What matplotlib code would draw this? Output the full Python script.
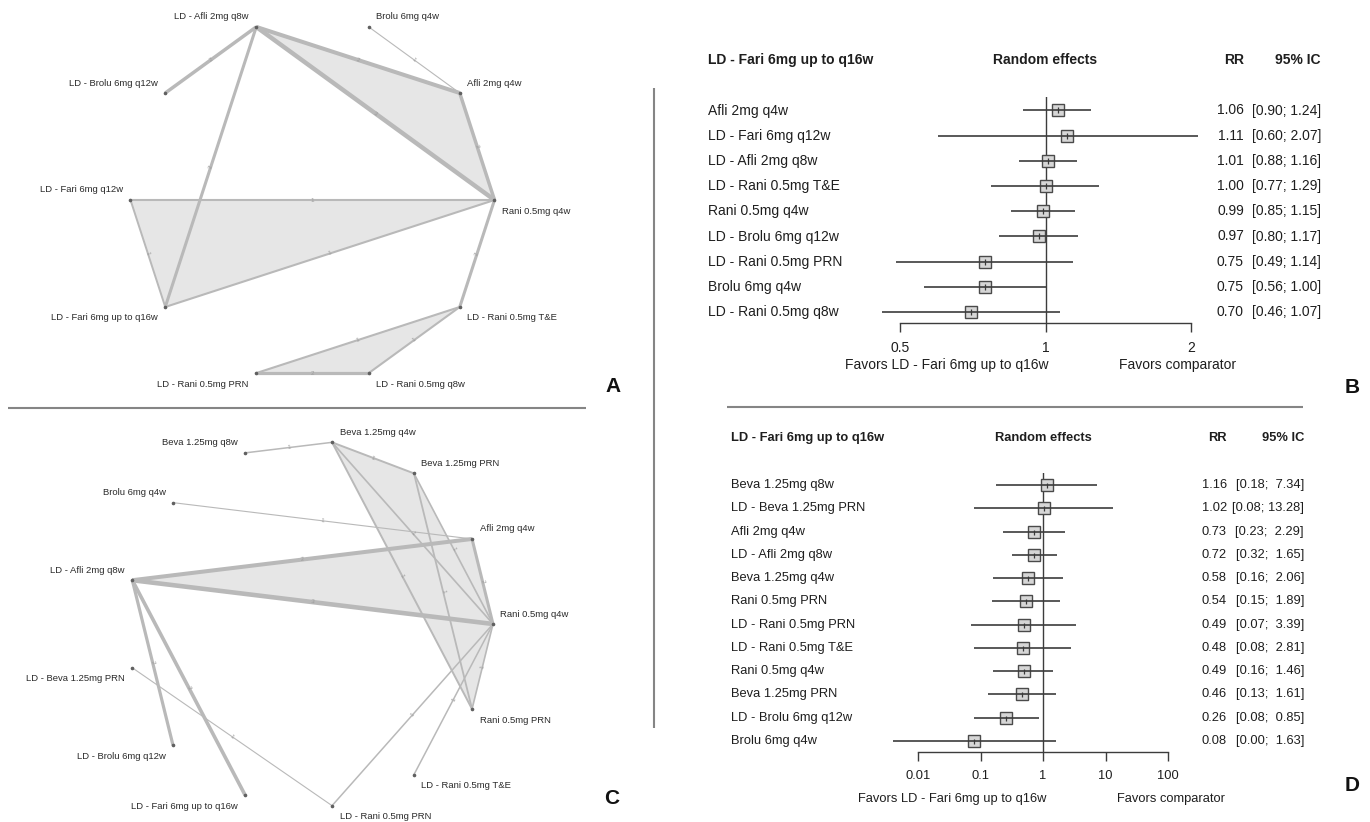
import numpy as np
import matplotlib.pyplot as plt
import matplotlib.transforms as mtransforms

plt.rcParams["font.family"] = ["Liberation Sans", "DejaVu Sans"]

W, H = 1370, 822
EDGE = "#b9b9b9"
FILL = "#e6e6e6"
SEP = "#858585"
INK = "#1e1e1e"
LINE = "#3c3c3c"

# ---------------- network A (10 treatments) ----------------
a_nodes = ["Rani 0.5mg q4w", "Afli 2mg q4w", "Brolu 6mg q4w", "LD - Afli 2mg q8w",
           "LD - Brolu 6mg q12w", "LD - Fari 6mg q12w", "LD - Fari 6mg up to q16w",
           "LD - Rani 0.5mg PRN", "LD - Rani 0.5mg q8w", "LD - Rani 0.5mg T&E"]
a_edges = [("LD - Afli 2mg q8w", "LD - Brolu 6mg q12w"),
           ("LD - Afli 2mg q8w", "Afli 2mg q4w"),
           ("LD - Afli 2mg q8w", "Rani 0.5mg q4w"),
           ("LD - Afli 2mg q8w", "LD - Fari 6mg up to q16w"),
           ("Brolu 6mg q4w", "Afli 2mg q4w"),
           ("Afli 2mg q4w", "Rani 0.5mg q4w"),
           ("Rani 0.5mg q4w", "LD - Fari 6mg q12w"),
           ("Rani 0.5mg q4w", "LD - Fari 6mg up to q16w"),
           ("LD - Fari 6mg q12w", "LD - Fari 6mg up to q16w"),
           ("Rani 0.5mg q4w", "LD - Rani 0.5mg T&E"),
           ("LD - Rani 0.5mg T&E", "LD - Rani 0.5mg PRN"),
           ("LD - Rani 0.5mg T&E", "LD - Rani 0.5mg q8w"),
           ("LD - Rani 0.5mg PRN", "LD - Rani 0.5mg q8w")]
a_studies = [2, 2, 3, 2, 1, 2, 1, 1, 1, 2, 1, 1, 2]
a_multi = [["LD - Afli 2mg q8w", "Afli 2mg q4w", "Rani 0.5mg q4w"],
           ["LD - Fari 6mg q12w", "Rani 0.5mg q4w", "LD - Fari 6mg up to q16w"],
           ["LD - Rani 0.5mg T&E", "LD - Rani 0.5mg q8w", "LD - Rani 0.5mg PRN"]]
a_lw = [2.5, 2.9, 3.2, 2.2, 0.8, 2.5, 1.5, 1.5, 1.4, 2.2, 1.5, 1.5, 2.3]

# ---------------- network C (13 treatments) ----------------
c_nodes = ["Rani 0.5mg q4w", "Afli 2mg q4w", "Beva 1.25mg PRN", "Beva 1.25mg q4w",
           "Beva 1.25mg q8w", "Brolu 6mg q4w", "LD - Afli 2mg q8w", "LD - Beva 1.25mg PRN",
           "LD - Brolu 6mg q12w", "LD - Fari 6mg up to q16w", "LD - Rani 0.5mg PRN",
           "LD - Rani 0.5mg T&E", "Rani 0.5mg PRN"]
c_edges = [("Beva 1.25mg q8w", "Beva 1.25mg q4w"),
           ("Beva 1.25mg q4w", "Beva 1.25mg PRN"),
           ("Beva 1.25mg q4w", "Rani 0.5mg q4w"),
           ("Beva 1.25mg q4w", "Rani 0.5mg PRN"),
           ("Beva 1.25mg PRN", "Rani 0.5mg q4w"),
           ("Beva 1.25mg PRN", "Rani 0.5mg PRN"),
           ("Brolu 6mg q4w", "Afli 2mg q4w"),
           ("LD - Afli 2mg q8w", "Afli 2mg q4w"),
           ("LD - Afli 2mg q8w", "Rani 0.5mg q4w"),
           ("Afli 2mg q4w", "Rani 0.5mg q4w"),
           ("Rani 0.5mg q4w", "Rani 0.5mg PRN"),
           ("Rani 0.5mg q4w", "LD - Rani 0.5mg T&E"),
           ("Rani 0.5mg q4w", "LD - Rani 0.5mg PRN"),
           ("LD - Afli 2mg q8w", "LD - Brolu 6mg q12w"),
           ("LD - Afli 2mg q8w", "LD - Fari 6mg up to q16w"),
           ("LD - Beva 1.25mg PRN", "LD - Rani 0.5mg PRN")]
c_studies = [1, 1, 1, 1, 1, 1, 1, 2, 3, 2, 1, 1, 1, 2, 2, 1]
c_multi = [["LD - Afli 2mg q8w", "Afli 2mg q4w", "Rani 0.5mg q4w"],
           ["Beva 1.25mg q4w", "Beva 1.25mg PRN", "Rani 0.5mg q4w", "Rani 0.5mg PRN"]]
c_lw = [1.1, 1.4, 1.2, 1.4, 1.2, 1.3, 0.8, 2.9, 3.3, 2.2, 1.2, 1.1, 1.1, 2.3, 2.6, 0.8]

# ---------------- forest B ----------------
ref_name = "LD - Fari 6mg up to q16w"
b_labels = ["Afli 2mg q4w", "LD - Fari 6mg q12w", "LD - Afli 2mg q8w", "LD - Rani 0.5mg T&E",
            "Rani 0.5mg q4w", "LD - Brolu 6mg q12w", "LD - Rani 0.5mg PRN",
            "Brolu 6mg q4w", "LD - Rani 0.5mg q8w"]
b_rr = [1.06, 1.11, 1.01, 1.00, 0.99, 0.97, 0.75, 0.75, 0.70]
b_lo = [0.90, 0.60, 0.88, 0.77, 0.85, 0.80, 0.49, 0.56, 0.46]
b_hi = [1.24, 2.07, 1.16, 1.29, 1.15, 1.17, 1.14, 1.00, 1.07]
b_ticks = [0.5, 1, 2]
b_ticklabels = ["0.5", "1", "2"]

# ---------------- forest D ----------------
d_labels = ["Beva 1.25mg q8w", "LD - Beva 1.25mg PRN", "Afli 2mg q4w", "LD - Afli 2mg q8w",
            "Beva 1.25mg q4w", "Rani 0.5mg PRN", "LD - Rani 0.5mg PRN", "LD - Rani 0.5mg T&E",
            "Rani 0.5mg q4w", "Beva 1.25mg PRN", "LD - Brolu 6mg q12w", "Brolu 6mg q4w"]
d_rr = [1.16, 1.02, 0.73, 0.72, 0.58, 0.54, 0.49, 0.48, 0.49, 0.46, 0.26, 0.08]
d_lo = [0.18, 0.08, 0.23, 0.32, 0.16, 0.15, 0.07, 0.08, 0.16, 0.13, 0.08, 0.004]
d_hi = [7.34, 13.28, 2.29, 1.65, 2.06, 1.89, 3.39, 2.81, 1.46, 1.61, 0.85, 1.63]
d_ticks = [0.01, 0.1, 1, 10, 100]
d_ticklabels = ["0.01", "0.1", "1", "10", "100"]

fig = plt.figure(figsize=(W / 100, H / 100), dpi=100)
bg = fig.add_axes([0, 0, 1, 1])
bg.set_xlim(0, W)
bg.set_ylim(H, 0)
bg.axis("off")


def draw_network(nodes, edges, studies, widths, multi, cx, cy, r, zero_up):
    th = np.linspace(0, 2 * np.pi, len(nodes), endpoint=False)
    pos = {n: (cx + r * np.cos(t), cy - r * np.sin(t)) for n, t in zip(nodes, th)}
    for grp in multi:
        bg.fill([pos[n][0] for n in grp], [pos[n][1] for n in grp],
                color=FILL, lw=0, zorder=1)
    for (u, v), k, w in zip(edges, studies, widths):
        (x1, y1), (x2, y2) = pos[u], pos[v]
        bg.plot([x1, x2], [y1, y2], color=EDGE, lw=w, solid_capstyle="butt", zorder=2)
        ang = np.degrees(np.arctan2(-(y2 - y1), x2 - x1))
        if ang > 90:
            ang -= 180
        if ang < -90:
            ang += 180
        bg.text((x1 + x2) / 2, (y1 + y2) / 2, str(k), fontsize=4.5, color="#9c9c9c",
                rotation=ang, rotation_mode="anchor", ha="center", va="center", zorder=3)
    for n, t in zip(nodes, th):
        x, y = pos[n]
        bg.plot(x, y, "o", ms=1.6, color="#606060", zorder=4)
        c, s = np.cos(t), np.sin(t)
        up = s > 1e-9 or (abs(s) <= 1e-9 and (c < 0 or zero_up))
        if abs(s) <= 1e-9 and c < 0:
            up = True
        ha = "left" if c > 1e-9 else "right"
        dx = 7.5 if ha == "left" else -7.5
        dy = -10 if up else 11
        bg.text(x + dx, y + dy, n, fontsize=6.8, color="#2a2a2a", ha=ha, va="center")


draw_network(a_nodes, a_edges, a_studies, a_lw, a_multi, 312.5, 200, 182, False)
draw_network(c_nodes, c_edges, c_studies, c_lw, c_multi, 310, 624, 183, True)


def draw_forest(labels, rr, lo, hi, ticks, ticklabels, xl, xr, row0, step,
                top, axis_y, lab_x, rr_x, ci_x, head_y, fav_y, fs, box):
    n = len(labels)
    y_bot = (axis_y - row0) / step
    y_top = (top - row0) / step
    ax = fig.add_axes([xl / W, 1 - axis_y / H, (xr - xl) / W, (axis_y - top) / H])
    ax.patch.set_alpha(0)
    ax.set_xscale("log")
    ax.set_xlim(ticks[0], ticks[-1])
    ax.set_ylim(y_bot, y_top)
    for sp in ("top", "left", "right"):
        ax.spines[sp].set_visible(False)
    ax.spines["bottom"].set_color(LINE)
    ax.spines["bottom"].set_linewidth(1.0)
    ax.set_yticks([])
    ax.set_xticks(ticks)
    ax.set_xticklabels(ticklabels)
    ax.xaxis.set_minor_locator(plt.NullLocator())
    ax.tick_params(axis="x", direction="out", length=6.5, width=1.0, color=LINE,
                   labelsize=fs, labelcolor=INK, pad=6.5)
    ax.axvline(1, color=LINE, lw=1.0, zorder=1)
    rows = np.arange(n)
    ax.hlines(rows, lo, hi, color=LINE, lw=1.2, zorder=3, clip_on=False)
    ax.plot(rr, rows, "s", ms=box, mfc="#d6d6d6", mec="#4a4a4a", mew=1.0, zorder=2,
            clip_on=False)
    ax.plot(rr, rows, "|", ms=box * 0.45, color="#3a3a3a", mew=0.9, zorder=4,
            clip_on=False)

    tr = mtransforms.blended_transform_factory(bg.transData, ax.transData)
    wid = max(len(f"{h:.2f}") for h in hi)
    for i in range(n):
        ax.text(lab_x, i, labels[i], transform=tr, fontsize=fs, color=INK,
                ha="left", va="center")
        ax.text(rr_x, i, f"{rr[i]:.2f}", transform=tr, fontsize=fs, color=INK,
                ha="right", va="center")
        ax.text(ci_x, i, f"[{lo[i]:.2f}; {hi[i]:>{wid}.2f}]", transform=tr, fontsize=fs,
                color=INK, ha="right", va="center")

    bx = bg.transData.inverted().transform(ax.transData.transform((1, 0)))[0]
    bg.text(lab_x, head_y, ref_name, fontsize=fs, fontweight="bold", color=INK,
            ha="left", va="center")
    bg.text(bx, head_y, "Random effects", fontsize=fs, fontweight="bold", color=INK,
            ha="center", va="center")
    bg.text(rr_x, head_y, "RR", fontsize=fs, fontweight="bold", color=INK,
            ha="right", va="center")
    bg.text(ci_x, head_y, "95% IC", fontsize=fs, fontweight="bold", color=INK,
            ha="right", va="center")
    bg.text(bx + 3, fav_y, "Favors " + ref_name, fontsize=fs, color=INK,
            ha="right", va="center")
    bg.text(bx + 74, fav_y, "Favors comparator", fontsize=fs, color=INK,
            ha="left", va="center")


draw_forest(b_labels, b_rr, b_lo, b_hi, b_ticks, b_ticklabels, 900, 1191,
            110.5, 25.2, 97, 323, 708, 1244, 1321, 60, 365, 10, 8.6)
draw_forest(d_labels, d_rr, d_lo, d_hi, d_ticks, d_ticklabels, 918, 1168,
            485, 23.27, 473, 752, 731, 1227, 1304, 438, 799, 9.3, 8.0)

# separators and panel letters
bg.plot([8, 586], [408, 408], color=SEP, lw=1.5, solid_capstyle="butt")
bg.plot([727, 1303], [407, 407], color=SEP, lw=1.5, solid_capstyle="butt")
bg.plot([654, 654], [88, 728], color=SEP, lw=1.5, solid_capstyle="butt")
for letter, x, y in [("A", 613, 386), ("B", 1352, 387), ("C", 612, 798), ("D", 1352, 785)]:
    bg.text(x, y, letter, fontsize=15, fontweight="bold", color="#111111",
            ha="center", va="center")

fig.savefig("out.png", dpi=100)
